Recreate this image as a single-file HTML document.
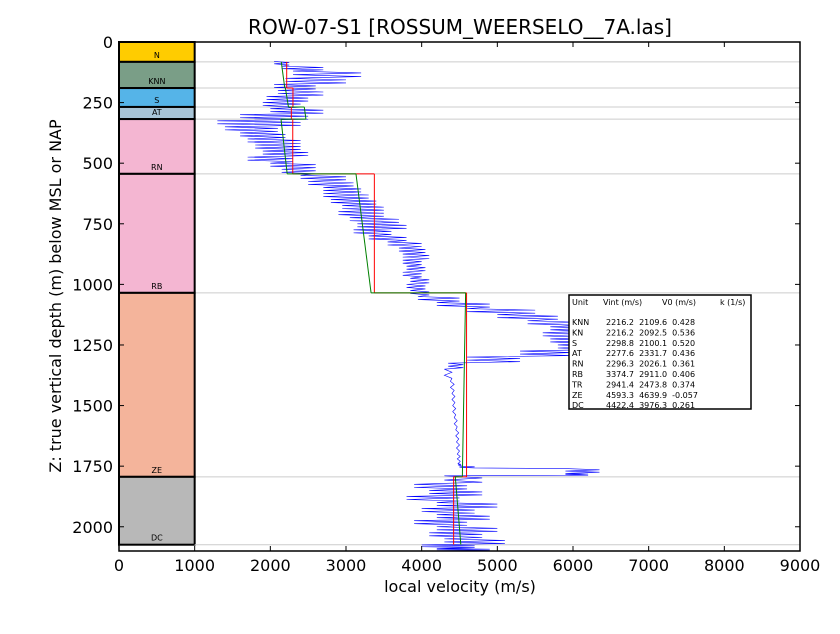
<!DOCTYPE html>
<html><head><meta charset="utf-8"><style>
body{margin:0;background:#fff;width:840px;height:630px;overflow:hidden;font-family:"DejaVu Sans","Liberation Sans",sans-serif}
svg text{font-family:"DejaVu Sans","Liberation Sans",sans-serif}
</style></head><body>
<svg id="c" width="840" height="630" xmlns="http://www.w3.org/2000/svg"></svg>
<script>
const unitNames=["N","KNN","S","AT","RN","RB","ZE","DC"];
const unitTops=[0,82,190,268,318,544,1035,1794];
const unitBases=[82,190,268,318,544,1035,1794,2074];
const unitColors=["#ffcc00","#7a9e87","#55b4e8","#a8c4d6","#f4b6d2","#f4b6d2","#f4b49b","#b8b8b8"];
const vintUnits=["KNN","S","AT","RN","RB","ZE","DC"];
const vint=[2216.2,2298.8,2277.6,2296.3,3374.7,4593.3,4422.4];
const v0=[2109.6,2100.1,2331.7,2026.1,2911.0,4639.9,3976.3];
const kval=[0.428,0.520,0.436,0.361,0.406,-0.057,0.261];
const logDepth=[80,100,120,150,175,200,225,250,275,300,325,350,375,400,425,450,475,500,525,550,575,600,625,650,675,700,725,750,775,800,825,850,875,900,925,950,975,1000,1025,1050,1075,1100,1125,1150,1175,1200,1225,1250,1275,1300,1325,1350,1400,1450,1500,1550,1600,1650,1700,1740,1750,1760,1780,1790,1825,1850,1875,1900,1925,1950,1975,2000,2025,2050,2075,2090];
const logLow=[2050,2150,2300,2200,2050,2100,1950,1900,2000,1600,1300,1400,1600,1700,1800,1900,1700,2000,2150,2400,2500,2700,2700,2800,2950,2900,3050,3150,3100,3300,3550,3700,3750,3750,3800,3750,3850,3800,3850,3950,4200,4600,5000,5400,5700,5600,5700,5800,5300,4600,4350,4300,4380,4400,4410,4430,4450,4460,4470,4480,4500,5900,5900,4300,3900,4100,3800,4200,4000,4200,3900,4200,4100,4300,4000,4200];
const logHigh=[2250,2700,3200,3000,2600,2700,2500,2400,2700,2500,2400,2100,2200,2400,2400,2500,2300,2600,2600,3000,3100,3200,3300,3400,3500,3500,3700,3800,3600,3800,4000,4050,4100,4000,4050,4000,4100,4050,4100,4500,4900,5500,5800,6100,6200,6200,6250,6300,6000,5300,4550,4400,4430,4440,4450,4470,4490,4500,4510,4520,4700,6350,6200,4800,4600,4800,4500,5000,4700,4900,4600,5000,4800,5100,4700,4900];
const xTicks=[0,1000,2000,3000,4000,5000,6000,7000,8000,9000];
const yTicks=[0,250,500,750,1000,1250,1500,1750,2000];

const L=119,R=800,T=42,B=551,XMAX=9000,YMAX=2100;
const sx=v=>L+v/XMAX*(R-L), sy=d=>T+d/YMAX*(B-T);
const svg=document.getElementById('c');const NS="http://www.w3.org/2000/svg";
function mk(tag,attrs,parent){const e=document.createElementNS(NS,tag);for(const k in attrs)e.setAttribute(k,attrs[k]);(parent||svg).appendChild(e);return e;}
const g=mk('g',{});


unitNames.forEach((n,i)=>{
 const r=mk('rect',{x:sx(0),y:sy(unitTops[i]),width:sx(1000)-sx(0),height:sy(unitBases[i])-sy(unitTops[i]),fill:unitColors[i],stroke:'#000','stroke-width':2},g);
 
 
 const t=mk('text',{x:sx(500),y:sy(unitBases[i])-4,'font-size':8,'text-anchor':'middle'},g);t.textContent=n;
 
 
 const ln=mk('line',{x1:sx(1000),x2:R,y1:sy(unitBases[i]),y2:sy(unitBases[i]),stroke:'#ccc','stroke-width':1},g);
 
 
});
let pts=[];
logDepth.forEach((d,i)=>{
 const nd=i<logDepth.length-1?logDepth[i+1]:d+10;
 const n=4;
 for(let j=0;j<n;j++){const dd=d+(nd-d)*j/n;pts.push(sx(j%2?logHigh[i]:logLow[i])+','+sy(dd));}
});
const pl=mk('polyline',{points:pts.join(' '),fill:'none',stroke:'#0000ff','stroke-width':0.6},g);


vintUnits.forEach((u,i)=>{
 const ui=unitNames.indexOf(u),z0=unitTops[ui],z1=unitBases[ui];
 const r=mk('line',{x1:sx(vint[i]),x2:sx(vint[i]),y1:sy(z0),y2:sy(z1),stroke:'#ff0000','stroke-width':1},g);
 
 
 const gr=mk('line',{x1:sx(v0[i]+kval[i]*z0),x2:sx(v0[i]+kval[i]*z1),y1:sy(z0),y2:sy(z1),stroke:'#008000','stroke-width':1},g);
 
 
 if(i<vintUnits.length-1){
  const r2=mk('line',{x1:sx(vint[i]),x2:sx(vint[i+1]),y1:sy(z1),y2:sy(z1),stroke:'#ff0000','stroke-width':1},g);
  
  const g2=mk('line',{x1:sx(v0[i]+kval[i]*z1),x2:sx(v0[i+1]+kval[i+1]*z1),y1:sy(z1),y2:sy(z1),stroke:'#008000','stroke-width':1},g);
  }
});
const fr=mk('rect',{x:L,y:T,width:R-L,height:B-T,fill:'none',stroke:'#000','stroke-width':1.5});

xTicks.forEach(v=>{mk('line',{x1:sx(v),x2:sx(v),y1:B,y2:B-5,stroke:'#000'});mk('line',{x1:sx(v),x2:sx(v),y1:T,y2:T+5,stroke:'#000'});
 const t=mk('text',{x:sx(v),y:B+20,'font-size':16,'text-anchor':'middle'});t.textContent=v;
 });
yTicks.forEach(v=>{mk('line',{x1:L,x2:L+5,y1:sy(v),y2:sy(v),stroke:'#000'});mk('line',{x1:R,x2:R-5,y1:sy(v),y2:sy(v),stroke:'#000'});
 const t=mk('text',{x:L-6,y:sy(v)+6,'font-size':16,'text-anchor':'end'});t.textContent=v;
 });
const lg=mk('g',{});

mk('rect',{x:569,y:295,width:182,height:114,fill:'#fff',stroke:'#000','stroke-width':1.5},lg);
[['Unit',572],['Vint (m/s)',603],['V0 (m/s)',662],['k (1/s)',720]].forEach(h=>{const t=mk('text',{x:h[1],y:305,'font-size':8},lg);t.textContent=h[0];});
const rows=["KNN","KN","S","AT","RN","RB","TR","ZE","DC"];
const rv=[[2216.2,2109.6,0.428],[2216.2,2092.5,0.536],[2298.8,2100.1,0.520],[2277.6,2331.7,0.436],[2296.3,2026.1,0.361],[3374.7,2911.0,0.406],[2941.4,2473.8,0.374],[4593.3,4639.9,-0.057],[4422.4,3976.3,0.261]];
rows.forEach((r,i)=>{const y=325+i*10.4;
 const a=mk('text',{x:572,y:y,'font-size':8},lg);a.textContent=r;
 const b=mk('text',{x:606,y:y,'font-size':8},lg);b.textContent=rv[i][0].toFixed(1)+'  '+rv[i][1].toFixed(1)+'  '+rv[i][2].toFixed(3);b.style.whiteSpace='pre';
 });
const ti=mk('text',{x:460,y:34,'font-size':20,'text-anchor':'middle'});ti.textContent='ROW-07-S1 [ROSSUM_WEERSELO__7A.las]';

const xl=mk('text',{x:460,y:592,'font-size':16,'text-anchor':'middle'});xl.textContent='local velocity (m/s)';

const yl=mk('text',{x:0,y:0,'font-size':16,'text-anchor':'middle',transform:'translate(61,296) rotate(-90)'});yl.textContent='Z: true vertical depth (m) below MSL or NAP';

</script>
</body></html>
